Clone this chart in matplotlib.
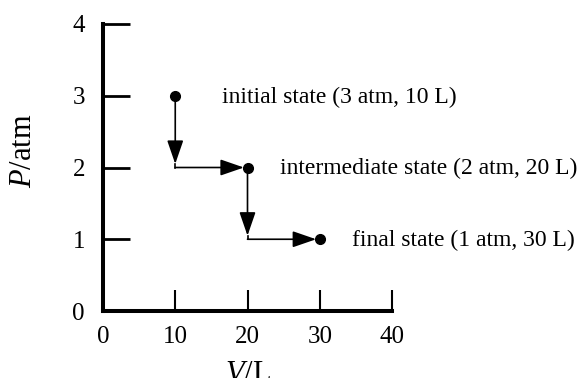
import matplotlib.pyplot as plt

plt.rcParams['font.family'] = 'Liberation Serif'
plt.rcParams['mathtext.fontset'] = 'custom'
plt.rcParams['mathtext.rm'] = 'Liberation Serif'
plt.rcParams['mathtext.it'] = 'Liberation Serif:italic'

volume = [10, 20, 30]
pressure = [3, 2, 1]
labels = ['initial state (3 atm, 10 L)',
          'intermediate state (2 atm, 20 L)',
          'final state (1 atm, 30 L)']
xticks = [0, 10, 20, 30, 40]
yticks = [0, 1, 2, 3, 4]

fig = plt.figure(figsize=(5.82, 3.78), dpi=100)
ax = fig.add_axes([103/582, 1-311/378, 289/582, 287/378])

arrow = dict(arrowstyle='-|>,head_length=1.45,head_width=0.5', color='black',
             lw=1.2, shrinkA=0, shrinkB=0)
for i in range(len(volume) - 1):
    # vertical drop, then horizontal expansion
    ax.annotate('', xy=(volume[i], pressure[i+1] + 0.05), xytext=(volume[i], pressure[i]),
                arrowprops=arrow)
    ax.plot([volume[i], volume[i]], [pressure[i+1] + 0.05, pressure[i+1]], color='black', lw=1.2)
    ax.annotate('', xy=(volume[i+1] - 0.5, pressure[i+1]), xytext=(volume[i], pressure[i+1]),
                arrowprops=arrow)

ax.plot(volume, pressure, 'o', color='black', ms=7, ls='none', zorder=5)

offsets = [6.5, 4.5, 4.5]
for v, p, lab, off in zip(volume, pressure, labels, offsets):
    ax.text(v + off, p - 0.02, lab, fontsize=17, va='center', ha='left')

ax.set_xlim(0, 40)
ax.set_ylim(0, 4)
ax.set_xticks(xticks)
ax.set_yticks(yticks)
ax.spines['top'].set_visible(False)
ax.spines['right'].set_visible(False)
ax.spines['left'].set_linewidth(2.9)
ax.spines['bottom'].set_linewidth(2.9)
ax.tick_params(axis='y', direction='in', length=19.5, width=2, labelsize=18, pad=13)
ax.tick_params(axis='x', direction='in', length=15, width=1.5, labelsize=18, pad=11)
ax.set_xlabel(r'$V$/L', fontsize=22)
ax.set_ylabel(r'$P$/atm', fontsize=22)
ax.xaxis.set_label_coords(0.5, -0.172)
ax.yaxis.set_label_coords(-0.225, 0.56)

fig.savefig('out.png', dpi=100)
